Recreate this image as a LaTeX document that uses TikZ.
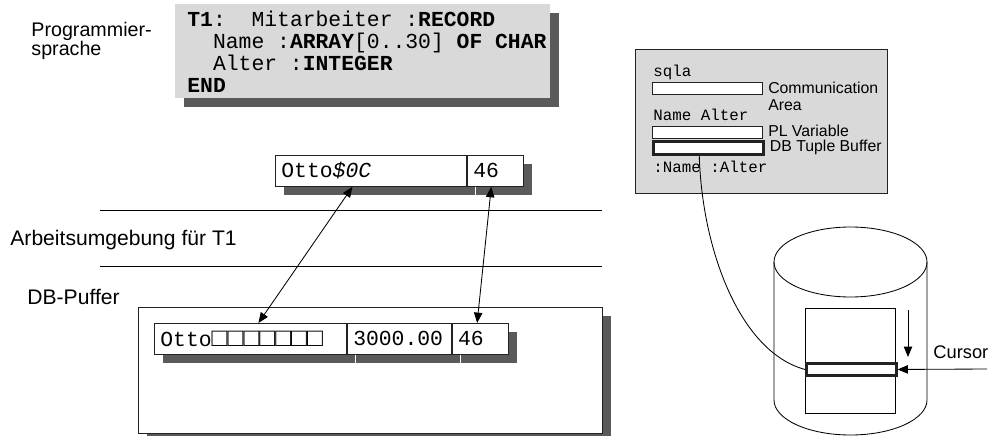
\documentclass[tikz,border=0pt]{standalone}
\usepackage{fontspec}
\usepackage{graphicx}
\setmainfont{Liberation Sans}
\setmonofont{Liberation Mono}
\usetikzlibrary{arrows.meta,positioning,calc,shadows}
\definecolor{PanelGray}{HTML}{D9D9D9}
\definecolor{ShadowGray}{HTML}{5A5A5A}
\definecolor{EdgeDark}{HTML}{222222}
\newcommand{\tsp}{\hspace*{0.6em}}

\begin{document}
\begin{tikzpicture}[x=0.25mm,y=-0.25mm,font=\fontsize{15}{13.5}\selectfont,line width=0.6pt,>={Triangle[length=2.6mm,width=2.1mm]},shad/.style={drop shadow={shadow xshift=2.25mm,shadow yshift=-2.25mm,fill=ShadowGray,opacity=1}},codebox/.style={shad,fill=PanelGray,inner xsep=3mm,inner ysep=0pt,align=left,font=\ttfamily\fontsize{15.2}{15.6}\selectfont},cell/.style={shad,draw=EdgeDark,fill=white,inner xsep=1.5mm,inner ysep=0pt,minimum height=7.75mm,align=left,anchor=north west,font=\ttfamily\fontsize{15.2}{15}\selectfont},slot/.style={draw=EdgeDark,fill=white,inner sep=0pt,anchor=north west,minimum width=27.5mm,minimum height=3.1mm},tag/.style={inner sep=0pt,anchor=base west},smalltag/.style={inner sep=0pt,font=\fontsize{11.25}{11.8}\selectfont},smallmono/.style={inner sep=0pt,anchor=base west,font=\ttfamily\fontsize{11.25}{11.8}\selectfont}]
\useasboundingbox (0,0) rectangle (991,436);
\node[tag,anchor=north west,align=left,font=\fontsize{14}{13.5}\selectfont] (prog) at (31,22){Programmier-\\sprache};
\node[codebox,anchor=north west,text width=87.75mm,minimum height=23.5mm] (code) at (175,4){\textbf{T1}:\tsp\tsp Mitarbeiter\tsp:\textbf{RECORD}\\\tsp\tsp Name\tsp:\textbf{ARRAY}[0..30]\tsp\textbf{OF}\tsp\textbf{CHAR}\\\tsp\tsp Alter\tsp:\textbf{INTEGER}\\\textbf{END}};
\node[cell,text width=44.75mm] (tName) at (275,155){Otto\textit{\$0C}};
\node[cell,text width=11mm] (tAge) at (tName.north east){46};
\draw (100,210) -- (602,210);
\draw (100,266.7) -- (602,266.7);
\node[tag] (work) at (10,245){Arbeitsumgebung für T1};
\node[tag] (dbp) at (27,304){DB-Puffer};
\node[shad,draw=EdgeDark,fill=white,anchor=north west,minimum width=116mm,minimum height=31.5mm,inner sep=0pt] (pool) at (138,307){};
\node[cell,text width=45mm] (bName) at (154,323){Otto\scalebox{1.24}[1.2]{□□□□□□□}};
\node[cell,text width=23mm] (bSal) at (bName.north east){3000.00};
\node[cell,text width=11mm] (bAge) at (bSal.north east){46};
\draw[<->] ($(tName.south)+(-18.5,0)$) -- ($(bName.north)+(8,0)$);
\draw[<->] ($(tAge.south)+(-4,0)$) -- ($(bAge.north)+(-3,0)$);
\node[draw=EdgeDark,fill=PanelGray,anchor=north west,minimum width=63mm,minimum height=36mm,inner sep=0pt] (sqlca) at (635,49){};
\node[smallmono] (sqla) at (653,76){sqla};
\node[slot] (commSlot) at (652,82){};
\node[smalltag,anchor=north west,align=left] (commText) at ($(commSlot.north east)+(5,0)$){Communication\\Area};
\node[smallmono] (vars) at (653,120.7){Name Alter};
\node[slot] (plSlot) at (652,126){};
\node[slot,line width=1.8pt,minimum height=3.25mm] (dbSlot) at (652,140){};
\node[smalltag,anchor=mid west] (plText) at ($(plSlot.east)+(5,0)$){PL Variable};
\node[smalltag,anchor=mid west] (dbText) at ($(dbSlot.east)+(5,0)$){DB Tuple Buffer};
\node[smallmono] (hostVars) at (653,172){:Name :Alter};
\draw (774,262) -- (774,400) arc[start angle=180,end angle=0,x radius=76.5,y radius=35] -- (927,262);
\draw (850.5,262) ellipse [x radius=76.5,y radius=35];
\draw (805,308) rectangle (895,413);
\node[draw=EdgeDark,fill=white,line width=1.8pt,anchor=north west,minimum width=22.5mm,minimum height=3.1mm,inner sep=0pt] (curRow) at (805,362){};
\coordinate (scanTop) at (908,310);
\coordinate (scanEnd) at (908,357);
\coordinate (curTail) at (987,369);
\draw[->] (scanTop) -- (scanEnd);
\draw[->] (curTail) -- (curRow.east);
\node[tag,font=\fontsize{13}{13}\selectfont] (cursor) at (933,358){Cursor};
\draw ($(dbSlot.south)+(-9,0)$) .. controls (702,250) and (740,352) .. (curRow.west);
\end{tikzpicture}
\end{document}
